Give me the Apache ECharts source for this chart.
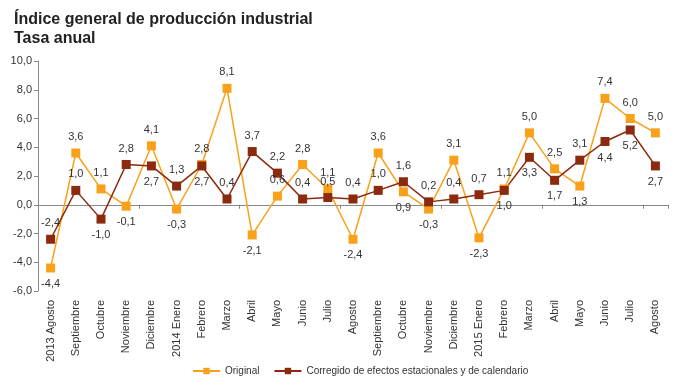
<!DOCTYPE html>
<html><head><meta charset="utf-8">
<script src="https://cdn.jsdelivr.net/npm/echarts@6/dist/echarts.min.js"></script>
<style>html,body{margin:0;padding:0;background:#fff}#c{width:680px;height:385px}</style>
</head><body><div id="c"></div>
<script>
const categories = ['2013 Agosto','Septiembre','Octubre','Noviembre','Diciembre','2014 Enero','Febrero','Marzo','Abril','Mayo','Junio','Julio','Agosto','Septiembre','Octubre','Noviembre','Diciembre','2015 Enero','Febrero','Marzo','Abril','Mayo','Junio','Julio','Agosto'];
const original = [-4.4,3.6,1.1,-0.1,4.1,-0.3,2.8,8.1,-2.1,0.6,2.8,1.1,-2.4,3.6,0.9,-0.3,3.1,-2.3,1.1,5.0,2.5,1.3,7.4,6.0,5.0];
const corregido = [-2.4,1.0,-1.0,2.8,2.7,1.3,2.7,0.4,3.7,2.2,0.4,0.5,0.4,1.0,1.6,0.2,0.4,0.7,1.0,3.3,1.7,3.1,4.4,5.2,2.7];
const yTicks = [-6,-4,-2,0,2,4,6,8,10];
const seriesNames = ['Original','Corregido de efectos estacionales y de calendario'];

// label placement (t = top, b = bottom)
const origPos = ['b','t','t','b','t','b','t','t','b','t','t','t','b','t','b','b','t','b','t','t','t','b','t','t','t'];
const corrPos = ['t','t','b','t','b','t','b','t','t','t','t','t','t','t','t','t','t','t','b','b','b','t','b','b','b'];

const fmt = v => v.toFixed(1).replace('.', ',');
const posMap = {t:'top', b:'bottom'};
function build(vals, pos){
  return vals.map((v,i)=>({value:v, label:{position:posMap[pos[i]]}}));
}
const chart = echarts.init(document.getElementById('c'));
const font = 'Liberation Sans, Arial, sans-serif';
chart.setOption({
  animation:false,
  textStyle:{fontFamily:font},
  title:{text:'Índice general de producción industrial\nTasa anual', left:9, top:5,
    textStyle:{fontSize:16, fontWeight:'bold', color:'#222', lineHeight:19, fontFamily:font}},
  grid:{left:38, right:12, top:61, bottom:94, containLabel:false},
  legend:{bottom:4, left:187, itemWidth:27, itemHeight:8, itemGap:14,
    textStyle:{fontSize:10, color:'#333'}, data:seriesNames},
  xAxis:[
    {type:'category', data:categories, boundaryGap:true,
     axisLine:{onZero:true, lineStyle:{color:'#888'}},
     axisTick:{show:true, length:4, lineStyle:{color:'#888'}},
     axisLabel:{show:false}},
    {type:'category', data:categories, boundaryGap:true, position:'bottom',
     axisLine:{show:false}, axisTick:{show:false},
     axisLabel:{rotate:90, fontSize:11, color:'#333', margin:9, interval:0}}
  ],
  yAxis:{type:'value', min:-6, max:10, interval:2,
    axisLine:{show:true, lineStyle:{color:'#888'}},
    axisTick:{show:true, length:4, lineStyle:{color:'#888'}},
    splitLine:{show:false},
    axisLabel:{fontSize:11, color:'#333', formatter:v=>fmt(v), margin:6}},
  series:[
    {name:seriesNames[0], type:'line', xAxisIndex:0, data:build(original, origPos),
     symbol:'rect', symbolSize:9, lineStyle:{width:1.5, color:'#F9A11B'},
     itemStyle:{color:'#F9A11B'},
     label:{show:true, fontSize:11, color:'#333', formatter:p=>fmt(p.value), distance:6}},
    {name:seriesNames[1], type:'line', xAxisIndex:0, data:build(corregido, corrPos),
     symbol:'rect', symbolSize:9, lineStyle:{width:1.5, color:'#8B2A0E'},
     itemStyle:{color:'#8B2A0E'},
     label:{show:true, fontSize:11, color:'#333', formatter:p=>fmt(p.value), distance:6}}
  ]
});
</script></body></html>
